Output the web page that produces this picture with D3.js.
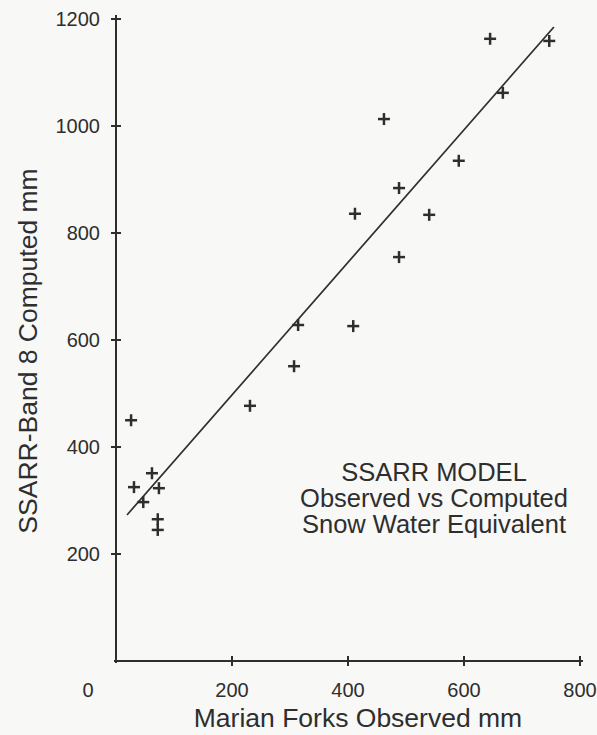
<!DOCTYPE html>
<html>
<head>
<meta charset="utf-8">
<script src="https://cdn.jsdelivr.net/npm/d3@7"></script>
<style>
  body { margin: 0; background: #f8f8f7; }
  text { font-family: "Liberation Sans", Arial, sans-serif; fill: #2e2e2e; }
</style>
</head>
<body>
<div id="chart"></div>
<script>
// observed (Marian Forks) vs computed (SSARR band 8), mm
const observed = [645, 747, 667, 462, 591, 488, 412, 540, 488, 409, 314, 307, 231, 26, 62, 31, 74, 47, 72, 72];
const computed = [1163, 1159, 1062, 1013, 935, 884, 836, 834, 755, 626, 628, 551, 477, 450, 351, 325, 323, 297, 265, 245];
// fitted line end points
const fitX = [19, 755];
const fitY = [273, 1185];
const xTicks = [200, 400, 600, 800];
const yTicks = [200, 400, 600, 800, 1000, 1200];
const legendLines = ["SSARR MODEL", "Observed vs Computed", "Snow Water Equivalent"];

const width = 597, height = 735;
const ink = "#2e2e2e";

const svg = d3.select("#chart").append("svg")
    .attr("width", width)
    .attr("height", height);

const x = d3.scaleLinear().domain([0, 800]).range([116, 580]);
const y = d3.scaleLinear().domain([0, 1200]).range([661, 19]);

// axis lines with cross ticks
const axes = svg.append("g").attr("stroke", ink).attr("stroke-width", 2);
axes.append("line")
    .attr("x1", x(0)).attr("y1", y(0) + 2)
    .attr("x2", x(0)).attr("y2", y(1200) - 4);
axes.append("line")
    .attr("x1", x(0) - 2).attr("y1", y(0))
    .attr("x2", x(800) + 3).attr("y2", y(0));

axes.selectAll(".yt").data(yTicks).enter().append("line")
    .attr("x1", x(0) - 5).attr("x2", x(0) + 5)
    .attr("y1", d => y(d)).attr("y2", d => y(d));
axes.selectAll(".xt").data(xTicks).enter().append("line")
    .attr("x1", d => x(d)).attr("x2", d => x(d))
    .attr("y1", y(0) - 5).attr("y2", y(0) + 5);

// tick labels
svg.append("g").selectAll("text").data(yTicks).enter().append("text")
    .attr("x", 100).attr("y", d => y(d) + 7)
    .attr("text-anchor", "end")
    .attr("font-size", 20)
    .text(d => d);
svg.append("g").selectAll("text").data(xTicks).enter().append("text")
    .attr("x", d => x(d)).attr("y", 697)
    .attr("text-anchor", "middle")
    .attr("font-size", 20)
    .text(d => d);
svg.append("text")
    .attr("x", 88).attr("y", 697)
    .attr("text-anchor", "middle")
    .attr("font-size", 20)
    .text("0");

// axis titles
svg.append("text")
    .attr("x", 358).attr("y", 727)
    .attr("text-anchor", "middle")
    .attr("font-size", 26.5)
    .text("Marian Forks Observed mm");
svg.append("text")
    .attr("transform", "translate(37,351) rotate(-90)")
    .attr("text-anchor", "middle")
    .attr("font-size", 26.5)
    .text("SSARR-Band 8 Computed mm");

// fitted line
svg.append("line")
    .attr("x1", x(fitX[0])).attr("y1", y(fitY[0]))
    .attr("x2", x(fitX[1])).attr("y2", y(fitY[1]))
    .attr("stroke", ink)
    .attr("stroke-width", 1.7);

// points as plus signs
const pts = observed.map((d, i) => ({ o: d, c: computed[i] }));
svg.append("g").attr("stroke", ink).attr("stroke-width", 2.5)
    .selectAll("g").data(pts).enter().append("g")
    .attr("transform", d => `translate(${x(d.o)},${y(d.c)})`)
    .each(function() {
        const g = d3.select(this);
        g.append("line").attr("x1", -6).attr("x2", 6);
        g.append("line").attr("y1", -6).attr("y2", 6);
    });

// legend block
svg.append("g").selectAll("text").data(legendLines).enter().append("text")
    .attr("x", 434)
    .attr("y", (d, i) => 481 + i * 26)
    .attr("text-anchor", "middle")
    .attr("font-size", 25.5)
    .text(d => d);
</script>
</body>
</html>
